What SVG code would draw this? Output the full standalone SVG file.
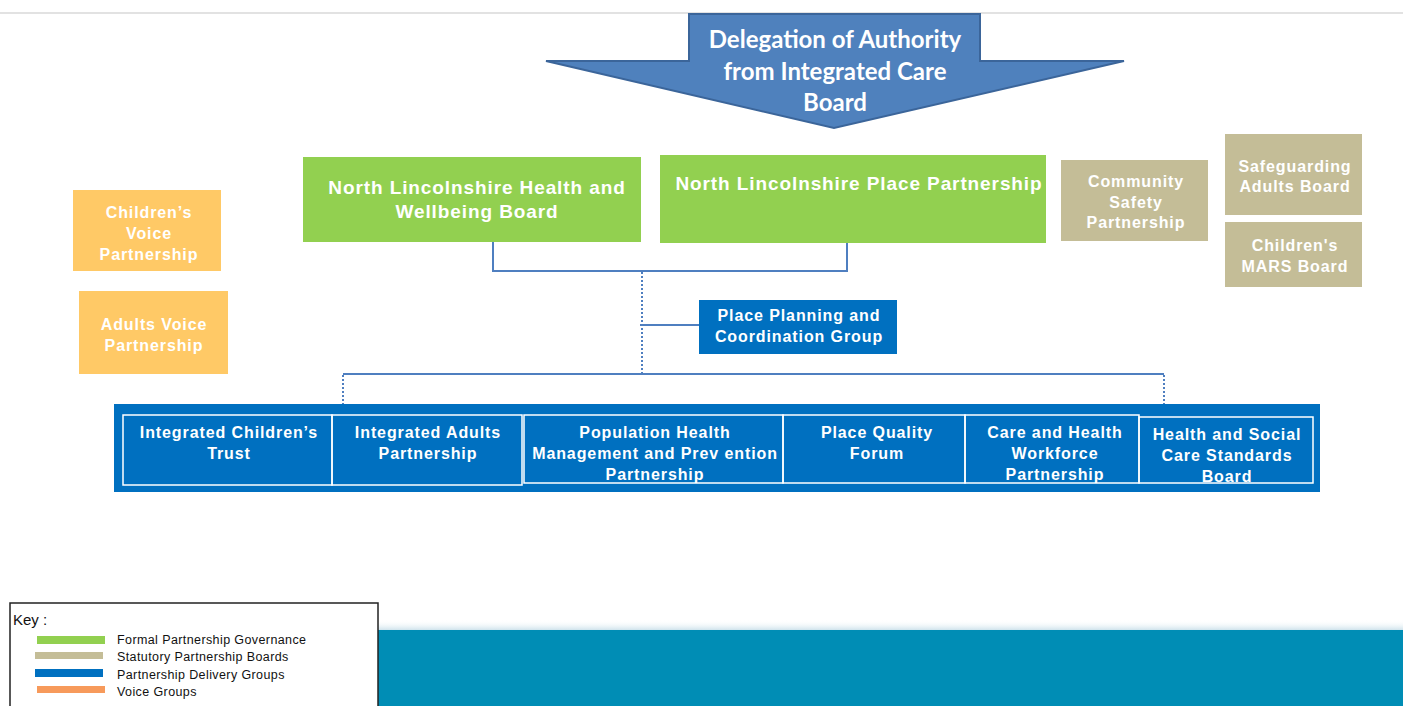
<svg xmlns="http://www.w3.org/2000/svg" width="1408" height="706" viewBox="0 0 1408 706">
  <style>
    .lbl { font-family: "Liberation Sans", Arial, sans-serif; font-weight: bold; fill: #ffffff; text-anchor: middle; letter-spacing: 0.9px; }
    .f16 { font-size: 16px; }
    .f19 { font-size: 19px; }
    .arrowtxt { font-family: Lato, "Open Sans", sans-serif; font-weight: bold; font-size: 24px; fill: #ffffff; text-anchor: middle; }
    .green { fill: #92D050; }
    .tan { fill: #C4BD97; }
    .voice { fill: #FFC966; }
    .blue { fill: #0070C0; }
    .cell { fill: none; stroke: #ffffff; stroke-width: 1.5; }
    .conn { stroke: #4F7FC0; stroke-width: 2; fill: none; }
    .dot { stroke: #4F7FC0; stroke-width: 2; stroke-dasharray: 2 2; fill: none; }
    .key { font-family: "Liberation Sans", Arial, sans-serif; font-size: 12.5px; fill: #111111; letter-spacing: 0.4px; }
    .keytitle { font-size: 15px; letter-spacing: 0; }
  </style>
  <defs>
    <linearGradient id="bandGlow" x1="0" y1="0" x2="0" y2="1">
      <stop offset="0" stop-color="#ffffff" stop-opacity="0"/>
      <stop offset="1" stop-color="#cfe3ec"/>
    </linearGradient>
  </defs>

  <rect x="0" y="0" width="1408" height="706" fill="#ffffff"/>
  <!-- top rule -->
  <rect x="0" y="12" width="1403" height="2" fill="#e2e2e2"/>

  <!-- bottom band -->
  <rect x="378" y="620" width="1025" height="10" fill="url(#bandGlow)"/>
  <rect x="378" y="630" width="1025" height="76" fill="#008DB5"/>

  <!-- delegation arrow -->
  <g id="delegation">
    <polygon points="689,14 980,14 980,61 1124,61 834,128 546,61 689,61" fill="#4F81BD" stroke="#3B659A" stroke-width="2"/>
    <text class="arrowtxt" x="835" y="48">Delegation of Authority</text>
    <text class="arrowtxt" x="835" y="80">from Integrated Care</text>
    <text class="arrowtxt" x="835" y="111">Board</text>
  </g>

  <!-- connectors -->
  <g id="connectors">
    <polyline class="conn" points="493,242 493,271 847,271 847,240"/>
    <line class="dot" x1="642" y1="272" x2="642" y2="374"/>
    <line class="conn" x1="640" y1="325" x2="699" y2="325"/>
    <line class="conn" x1="343" y1="374" x2="1164" y2="374"/>
    <line class="dot" x1="343" y1="375" x2="343" y2="404"/>
    <line class="dot" x1="1164" y1="375" x2="1164" y2="404"/>
  </g>

  <!-- formal governance -->
  <g id="hwb">
    <rect class="green" x="303" y="157" width="338" height="85"/>
    <text class="lbl f19" x="477" y="194">North Lincolnshire Health and</text>
    <text class="lbl f19" x="477" y="218">Wellbeing Board</text>
  </g>
  <g id="place-partnership">
    <rect class="green" x="660" y="155" width="386" height="88"/>
    <text class="lbl f19" x="859" y="190">North Lincolnshire Place Partnership</text>
  </g>

  <!-- statutory boards -->
  <g id="csp">
    <rect class="tan" x="1061" y="160" width="147" height="81"/>
    <text class="lbl f16" x="1136" y="187">Community</text>
    <text class="lbl f16" x="1136" y="208">Safety</text>
    <text class="lbl f16" x="1136" y="228">Partnership</text>
  </g>
  <g id="sab">
    <rect class="tan" x="1225" y="134" width="137" height="81"/>
    <text class="lbl f16" x="1295" y="172">Safeguarding</text>
    <text class="lbl f16" x="1295" y="192">Adults Board</text>
  </g>
  <g id="mars">
    <rect class="tan" x="1225" y="222" width="137" height="65"/>
    <text class="lbl f16" x="1295" y="251">Children's</text>
    <text class="lbl f16" x="1295" y="272">MARS Board</text>
  </g>

  <!-- voice groups -->
  <g id="childrens-voice">
    <rect class="voice" x="73" y="190" width="148" height="81"/>
    <text class="lbl f16" x="149" y="218">Children’s</text>
    <text class="lbl f16" x="149" y="239">Voice</text>
    <text class="lbl f16" x="149" y="260">Partnership</text>
  </g>
  <g id="adults-voice">
    <rect class="voice" x="79" y="291" width="149" height="83"/>
    <text class="lbl f16" x="154" y="330">Adults Voice</text>
    <text class="lbl f16" x="154" y="351">Partnership</text>
  </g>

  <!-- place planning -->
  <g id="ppcg">
    <rect class="blue" x="699" y="300" width="198" height="54"/>
    <text class="lbl f16" x="799" y="321">Place Planning and</text>
    <text class="lbl f16" x="799" y="342">Coordination Group</text>
  </g>

  <!-- delivery groups -->
  <rect class="blue" x="114" y="404" width="1206" height="88"/>
  <g id="ict">
    <rect class="cell" x="123" y="415" width="209" height="70"/>
    <text class="lbl f16" x="229" y="438">Integrated Children’s</text>
    <text class="lbl f16" x="229" y="459">Trust</text>
  </g>
  <g id="iap">
    <rect class="cell" x="332" y="415" width="190" height="70"/>
    <text class="lbl f16" x="428" y="438">Integrated Adults</text>
    <text class="lbl f16" x="428" y="459">Partnership</text>
  </g>
  <g id="phm">
    <rect class="cell" x="524" y="415" width="259" height="68"/>
    <text class="lbl f16" x="655" y="438">Population Health</text>
    <text class="lbl f16" x="655" y="459">Management and Prev ention</text>
    <text class="lbl f16" x="655" y="480">Partnership</text>
  </g>
  <g id="pqf">
    <rect class="cell" x="783" y="415" width="182" height="68"/>
    <text class="lbl f16" x="877" y="438">Place Quality</text>
    <text class="lbl f16" x="877" y="459">Forum</text>
  </g>
  <g id="chwp">
    <rect class="cell" x="965" y="415" width="174" height="68"/>
    <text class="lbl f16" x="1055" y="438">Care and Health</text>
    <text class="lbl f16" x="1055" y="459">Workforce</text>
    <text class="lbl f16" x="1055" y="480">Partnership</text>
  </g>
  <g id="hscsb">
    <rect class="cell" x="1139" y="417" width="174" height="66"/>
    <text class="lbl f16" x="1227" y="440">Health and Social</text>
    <text class="lbl f16" x="1227" y="461">Care Standards</text>
    <text class="lbl f16" x="1227" y="482">Board</text>
  </g>

  <!-- key -->
  <g id="key">
    <rect x="10" y="603" width="368" height="110" fill="#ffffff" stroke="#222222" stroke-width="1.5"/>
    <text class="key keytitle" x="13" y="625">Key :</text>
    <rect x="37" y="636" width="68" height="8" fill="#92D050"/>
    <rect x="35" y="652" width="68" height="7" fill="#C4BD97"/>
    <rect x="35" y="669" width="68" height="8" fill="#0070C0"/>
    <rect x="37" y="686" width="68" height="7" fill="#F79A5B"/>
    <text class="key" x="117" y="644">Formal Partnership Governance</text>
    <text class="key" x="117" y="661">Statutory Partnership Boards</text>
    <text class="key" x="117" y="679">Partnership Delivery Groups</text>
    <text class="key" x="117" y="696">Voice Groups</text>
  </g>
</svg>
